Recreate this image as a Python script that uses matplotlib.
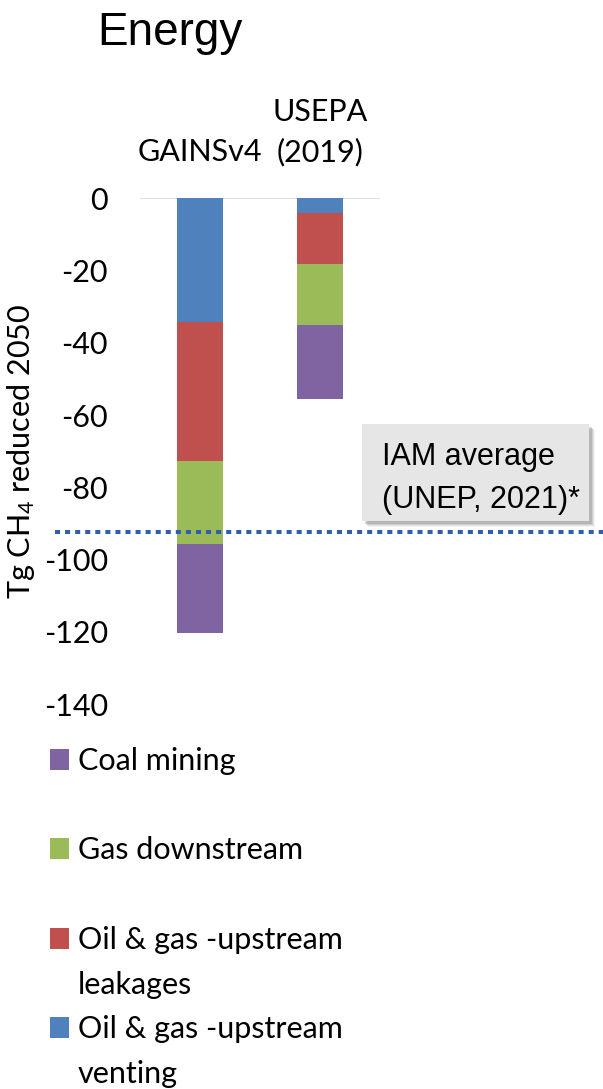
import textwrap
import numpy as np
import matplotlib.pyplot as plt
from matplotlib.patches import Rectangle

plt.rcParams['font.family'] = ['Lato', 'DejaVu Sans']
plt.rcParams['mathtext.fontset'] = 'custom'
plt.rcParams['mathtext.rm'] = 'Lato'
plt.rcParams['mathtext.it'] = 'Lato:italic'
plt.rcParams['axes.unicode_minus'] = False

# reductions in 2050 (Tg CH4), stacked from zero downwards
sources = ["GAINSv4", "USEPA\n(2019)"]
sectors = ["Oil & gas -upstream venting", "Oil & gas -upstream leakages",
           "Gas downstream", "Coal mining"]
colors = ["#4F81BD", "#C0504D", "#9BBB59", "#8064A2"]
venting = [-34.2, -4.2]
leakages = [-38.4, -14.0]
gas_down = [-23.1, -16.9]
coal = [-24.7, -20.6]
iam_avg = -92.3
yticks = [0, -20, -40, -60, -80, -100, -120, -140]

W, H = 603, 1089
fig = plt.figure(figsize=(W / 100, H / 100), dpi=100)


def fx(x):
    return x / W


def fy(y):
    return 1 - y / H


ax = fig.add_axes([fx(140), fy(704), (380 - 140) / W, (704 - 198.3) / H])

x = np.arange(len(sources))
bottom = np.zeros(len(sources))
for vals, c in zip([venting, leakages, gas_down, coal], colors):
    ax.bar(x, vals, 0.39, bottom=bottom, color=c, zorder=2)
    bottom += np.array(vals)

ax.axhline(0, color='#D9D9D9', lw=1.2, zorder=1)
ax.set_xlim(-0.5, 1.5)
ax.set_ylim(-140, 0)
ax.set_yticks(yticks)
ax.tick_params(axis='y', length=0, pad=23, labelsize=22)
ax.xaxis.tick_top()
ax.set_xticks(x, sources, linespacing=1.5)
ax.tick_params(axis='x', length=0, pad=23, labelsize=22)
for s in ax.spines.values():
    s.set_visible(False)

ax.set_ylabel("Tg CH$_4$ reduced 2050", fontsize=22)
ax.yaxis.set_label_coords(-0.43, 0.5)

# IAM average line, runs past the plot area to the right
ax.plot([-0.355, 1.94], [iam_avg, iam_avg], transform=ax.get_yaxis_transform(),
        color='#2F5EAE', lw=2.9, linestyle=(0, (1.25, 1.25)),
        dash_capstyle='butt', clip_on=False, zorder=3)

# callout box with soft shadow
bx0, by0, bx1, by1 = 362, 424, 589, 521
for off, a in [(6, 0.08), (5, 0.12), (4, 0.18), (3, 0.25)]:
    fig.patches.append(Rectangle((fx(bx0 + off), fy(by1 + off)), (bx1 - bx0) / W,
                                 (by1 - by0) / H, transform=fig.transFigure,
                                 color='#707070', alpha=a, lw=0))
fig.patches.append(Rectangle((fx(bx0), fy(by1)), (bx1 - bx0) / W, (by1 - by0) / H,
                             transform=fig.transFigure, color='#E6E6E6', lw=0))
fig.text(fx(382), fy(465), "IAM average", fontsize=22,
         family='Liberation Sans', va='baseline')
fig.text(fx(382), fy(508), "(UNEP, 2021)*", fontsize=22,
         family='Liberation Sans', va='baseline')

fig.text(fx(97), fy(45), "Energy", fontsize=33, family='Liberation Sans',
         va='baseline')

# legend, each entry gets two lines of space
for i, (name, c) in enumerate(zip(sectors[::-1], colors[::-1])):
    base = 770 + i * 89.3
    fig.patches.append(Rectangle((fx(50), fy(base)), 19 / W, 21 / H,
                                 transform=fig.transFigure, color=c, lw=0))
    for j, line in enumerate(textwrap.wrap(name, 19)):
        fig.text(fx(78), fy(base + 45 * j), line, fontsize=22, va='baseline')

fig.savefig("out.png", dpi=100)
